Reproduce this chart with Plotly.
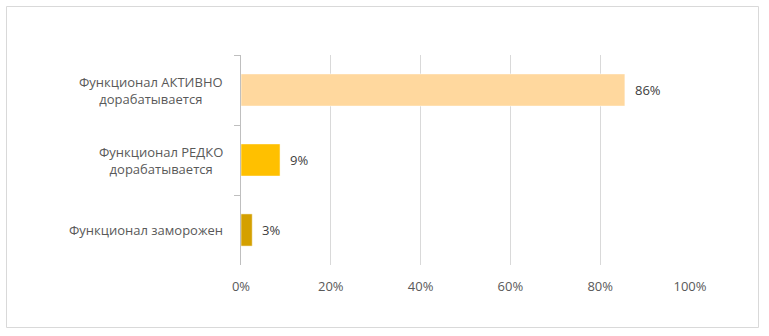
import plotly.graph_objects as go

categories = ["Функционал АКТИВНО<br>дорабатывается", "Функционал РЕДКО<br>дорабатывается", "Функционал заморожен"]
values = [85.5, 8.7, 2.5]
labels = ["86%", "9%", "3%"]
colors = ["#FFD89E", "#FFC000", "#D4A000"]
tick_vals = [0, 20, 40, 60, 80, 100]
tick_text = ["0%", "20%", "40%", "60%", "80%", "100%"]

W, H = 769, 336
L, R, T, B = 241, 79, 55, 71
pw, ph = W - L - R, H - T - B

def px_x(x):
    return (x - L) / pw

def px_y(y):
    return (H - B - y) / ph

font = "'Open Sans', sans-serif"
fc = "#595959"

fig = go.Figure()
fig.add_trace(go.Bar(
    x=values, y=categories, orientation="h",
    marker=dict(color=colors, line=dict(color="rgba(255,255,255,0.5)", width=1)),
    width=0.46, hoverinfo="skip",
))

annotations = []
for c, v, t in zip(categories, values, labels):
    annotations.append(dict(x=v, y=c, xref="x", yref="y", text=t, showarrow=False,
                            xanchor="left", xshift=8, font=dict(family=font, size=13, color="#404040")))
    annotations.append(dict(x=0, y=c, xref="x", yref="y", text=c, showarrow=False,
                            xanchor="right", align="center", xshift=-16,
                            font=dict(family=font, size=13, color=fc)))

fig.update_layout(
    width=W, height=H,
    margin=dict(l=L, r=R, t=T, b=B, pad=0),
    paper_bgcolor="white", plot_bgcolor="white",
    showlegend=False,
    annotations=annotations,
    shapes=[dict(type="rect", xref="paper", yref="paper",
                 x0=px_x(6.5), x1=px_x(758.5), y0=px_y(327.5), y1=px_y(6.5),
                 line=dict(color="#d9d9d9", width=1), fillcolor="rgba(0,0,0,0)", layer="below")],
    xaxis=dict(range=[0, 100], tickvals=tick_vals, ticktext=tick_text,
               showgrid=True, gridcolor="#d9d9d9", gridwidth=1, zeroline=False,
               showline=False, ticks="outside", ticklen=9, tickcolor="rgba(0,0,0,0)",
               tickfont=dict(family=font, size=13, color=fc), fixedrange=True),
    yaxis=dict(type="category", categoryorder="array", categoryarray=categories,
               autorange="reversed", range=[2.5, -0.5],
               showline=True, linecolor="#bfbfbf", linewidth=1,
               ticks="outside", tickson="boundaries", ticklen=6, tickcolor="#bfbfbf",
               showticklabels=False, showgrid=False, zeroline=False, fixedrange=True),
)

fig.write_html("out.html")
